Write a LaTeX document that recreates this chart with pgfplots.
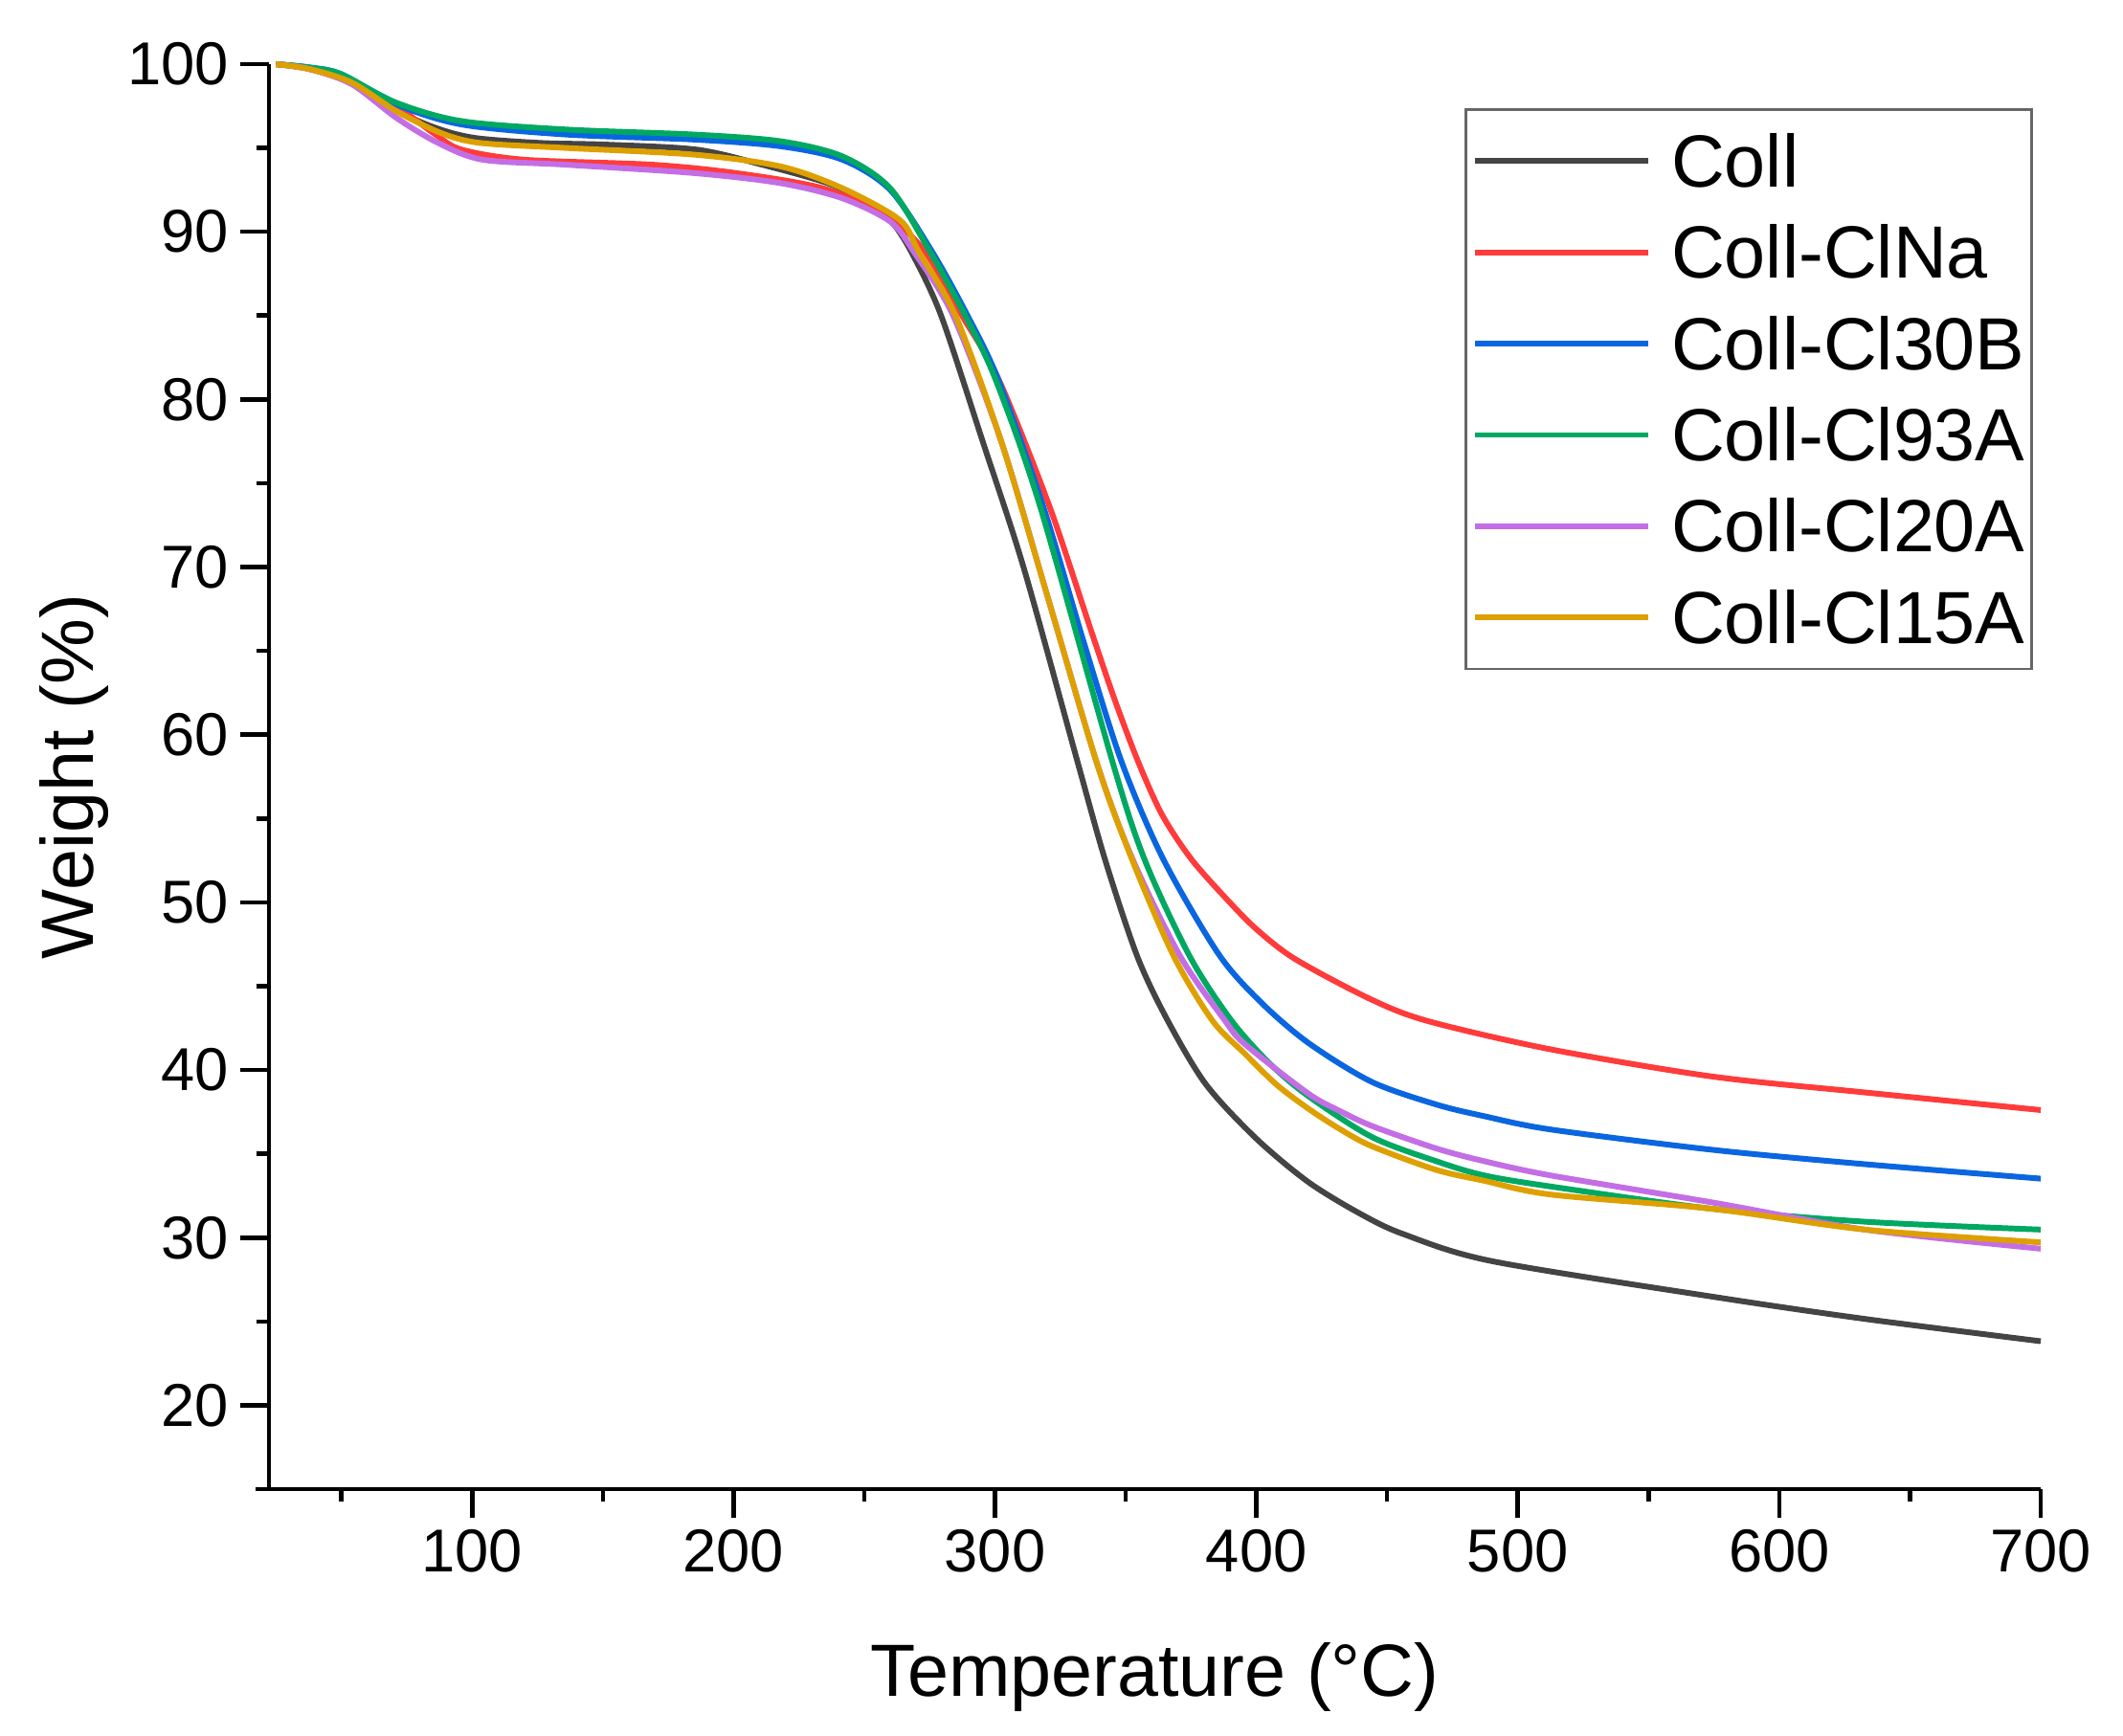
\documentclass[border=0pt]{standalone}
\usepackage{fontspec}
\setmainfont{Liberation Sans}
\usepackage{pgfplots}
\pgfplotsset{compat=1.18}

\definecolor{cColl}{HTML}{444444}
\definecolor{cNa}{HTML}{FF3B3B}
\definecolor{cB}{HTML}{0A66E0}
\definecolor{cG}{HTML}{00A862}
\definecolor{cP}{HTML}{C46EE6}
\definecolor{cO}{HTML}{DDA000}

\begin{document}
\begin{tikzpicture}
\begin{axis}[
    scale only axis,
    width=18.51cm, height=14.89cm,
    xmin=22.3, xmax=700, ymin=15, ymax=100,
    axis x line=bottom, axis y line=left,
    axis line style={-, line width=1.3pt, black},
    x axis line style={shorten <=-0.14cm},
    xtick={100,200,...,700}, ytick={20,30,...,100},
    minor xtick={50,150,...,650}, minor ytick={25,35,...,95},
    tick align=outside,
    major tick length=0.3cm, minor tick length=0.13cm,
    tick style={line width=1.3pt, black},
    /pgf/number format/assume math mode=true,
    ticklabel style={font=\fontsize{18}{20}\selectfont},
    xlabel={Temperature (°C)},
    ylabel={Weight (\%)},
    every axis x label/.style={at={(rel axis cs:0.5,-0.1457)}, anchor=base,
        font=\fontsize{22}{26}\selectfont},
    every axis y label/.style={at={(rel axis cs:-0.0994,0.5)}, anchor=base,
        rotate=90, font=\fontsize{22}{26}\selectfont},
    clip=false,
    legend style={at={(0.9957,0.969)}, anchor=north east,
        draw=black!60, line width=0.8pt,
        inner xsep=0.07cm, inner ysep=0.06cm,
        font=\fontsize{22}{26}\selectfont,
        row sep=0pt, column sep=0.21cm,
        nodes={inner sep=0pt, text height=0.747cm, text depth=0.207cm}},
    legend cell align=left,
    legend image code/.code={\draw[#1] (0cm,0cm) -- (1.81cm,0cm);},
    every axis plot/.append style={line width=1.7pt, smooth, tension=0.5},
]

% Coll
\addplot[color=cColl] coordinates {
  (25,100) (40,99.7) (55,98.8) (70,97.3) (86,96.2) (101,95.6) (126,95.3)
  (151,95.2) (186,94.9) (211,94.0) (236,92.9) (251,91.8) (260,90.7)
  (268,88.8) (279.4,85.0) (295.3,77.5) (311.1,69.9) (331.9,58.2)
  (342.3,52.45) (354.5,46.75) (366.1,42.94) (380.7,39.14) (400,35.9)
  (420,33.3) (440,31.4) (456.4,30.2) (490,28.6) (574.4,26.48)
  (632.8,25.15) (700,23.82)
};
\addlegendentry{Coll}

% Coll-ClNa
\addplot[color=cNa] coordinates {
  (25,100) (38,99.7) (54,98.9) (71,97.5) (86,95.8) (96,94.9) (120,94.3)
  (169,94.0) (201,93.5) (234,92.6) (258,91.0) (273.3,88.8) (287.4,85.0)
  (301.4,81.2) (320.9,73.6) (337,66.1) (346,62.0) (355,58.3) (364,55.2)
  (375,52.6) (388,50.3) (400,48.4) (415,46.6) (444,44.2) (466,42.9)
  (512.6,41.23) (574.4,39.61) (632.8,38.66) (700,37.61)
};
\addlegendentry{Coll-ClNa}

% Coll-Cl30B
\addplot[color=cB] coordinates {
  (25,100) (38,99.8) (50,99.4) (71,97.6) (96,96.4) (136,95.8) (185,95.5)
  (218,95.1) (241.6,94.3) (259.9,92.5) (276,88.8) (289.5,85.0)
  (301.2,81.2) (318.5,73.6) (334,65.5) (348.4,58.4) (364.3,52.6)
  (385.6,46.9) (402,44.0) (420,41.6) (444,39.3) (468.6,37.95)
  (487,37.25) (512.6,36.45) (574.4,35.24) (632.8,34.38) (700,33.52)
};
\addlegendentry{Coll-Cl30B}

% Coll-Cl93A
\addplot[color=cG] coordinates {
  (25,100) (38,99.8) (50,99.4) (71,97.7) (96,96.6) (136,96.1) (185,95.8)
  (218,95.4) (241.6,94.5) (259.9,92.6) (275.2,88.8) (288.6,85.0)
  (300.2,81.2) (317.3,73.6) (345.3,58.2) (357.5,52.45) (374.6,46.75)
  (390.5,42.94) (405,40.4) (419.8,38.45) (444.2,36.0) (468.6,34.57)
  (486.9,33.72) (512.6,33.05) (574.4,31.72) (632.8,30.95) (700,30.48)
};
\addlegendentry{Coll-Cl93A}

% Coll-Cl20A
\addplot[color=cP] coordinates {
  (25,100) (38,99.7) (54,98.8) (71,96.8) (87,95.3) (104,94.3) (136,94.0)
  (185,93.5) (218,92.9) (241.6,92.0) (260,90.6) (269,88.8) (284,85.0)
  (302.6,77.4) (320,68.3) (339.2,58.2) (353,52.45) (371,46.75)
  (388,42.94) (395.4,41.57) (419.8,38.6) (432,37.55) (444.2,36.66)
  (468.6,35.33) (486.9,34.57) (512.6,33.71) (574.4,32.1) (632.8,30.48)
  (700,29.34)
};
\addlegendentry{Coll-Cl20A}

% Coll-Cl15A
\addplot[color=cO] coordinates {
  (25,100) (38,99.7) (54,98.9) (71,97.2) (88,95.9) (103,95.3) (136,95.0)
  (185,94.6) (218,93.9) (241.6,92.6) (263.6,90.7) (270.9,88.8)
  (284.9,85.0) (302.6,77.4) (320,68.3) (339.2,58.2) (352.7,52.45)
  (368.5,46.75) (383.2,42.94) (395.4,41.0) (407.6,39.14) (419.8,37.7)
  (432,36.47) (444.2,35.45) (468.6,34.05) (486.9,33.4) (512.6,32.57)
  (574.4,31.72) (632.8,30.48) (700,29.72)
};
\addlegendentry{Coll-Cl15A}

\end{axis}
\pgfresetboundingbox
\path[use as bounding box] (-2.81cm,-2.57cm) rectangle (19.37cm,15.56cm);
\end{tikzpicture}
\end{document}
